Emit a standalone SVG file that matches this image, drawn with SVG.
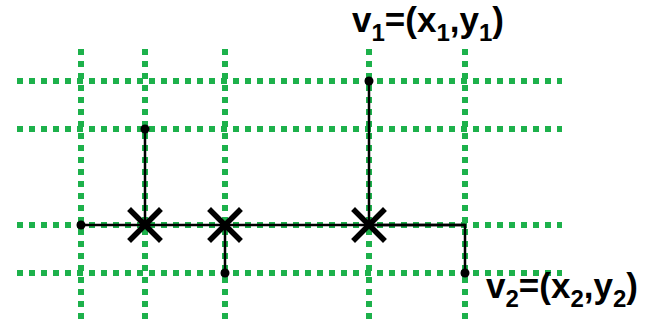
<svg xmlns="http://www.w3.org/2000/svg" width="650" height="321" viewBox="0 0 650 321">
<style>
.g{stroke:#1db14b;stroke-width:6;stroke-dasharray:6 6;fill:none}
.k{stroke:#000;stroke-width:2.5;fill:none}
.x{stroke:#000;stroke-width:5.5;stroke-linecap:square}
.d{fill:#000}
.t{font-family:"Liberation Sans",Arial,sans-serif;font-weight:bold;font-size:35px;fill:#000}
.s{font-size:24px}
</style>
<g id="grid">
<line class="g" x1="17" y1="81" x2="562" y2="81"/>
<line class="g" x1="17" y1="129" x2="562" y2="129"/>
<line class="g" x1="17" y1="225" x2="562" y2="225"/>
<line class="g" x1="17" y1="273" x2="562" y2="273"/>
<line class="g" x1="81" y1="49" x2="81" y2="321"/>
<line class="g" x1="145" y1="49" x2="145" y2="321"/>
<line class="g" x1="225" y1="49" x2="225" y2="321"/>
<line class="g" x1="369" y1="49" x2="369" y2="321"/>
<line class="g" x1="465" y1="49" x2="465" y2="321"/>
</g>
<g id="connectors">
<polyline class="k" points="369,81 369,225 465,225 465,273"/>
<line class="k" x1="81" y1="225" x2="465" y2="225"/>
<line class="k" x1="145" y1="129" x2="145" y2="225"/>
<line class="k" x1="225" y1="225" x2="225" y2="273"/>
</g>
<g id="dots">
<circle class="d" cx="369" cy="81" r="4.5"/>
<circle class="d" cx="465" cy="273" r="4.5"/>
<circle class="d" cx="81" cy="225" r="4.5"/>
<circle class="d" cx="145" cy="129" r="4.5"/>
<circle class="d" cx="225" cy="273" r="4.5"/>
</g>
<g id="crossings">
<path class="x" d="M131,211 L159,239 M159,211 L131,239"/>
<path class="x" d="M211,211 L239,239 M239,211 L211,239"/>
<path class="x" d="M355,211 L383,239 M383,211 L355,239"/>
</g>
<g id="v1">
<text class="t" x="352" y="32">v<tspan class="s" dy="9">1</tspan><tspan dy="-9">=(x</tspan><tspan class="s" dy="9">1</tspan><tspan dy="-9">,y</tspan><tspan class="s" dy="9">1</tspan><tspan dy="-9">)</tspan></text>
</g>
<g id="v2">
<text class="t" x="486" y="298">v<tspan class="s" dy="9">2</tspan><tspan dy="-9">=(x</tspan><tspan class="s" dy="9">2</tspan><tspan dy="-9">,y</tspan><tspan class="s" dy="9">2</tspan><tspan dy="-9">)</tspan></text>
</g>
</svg>
